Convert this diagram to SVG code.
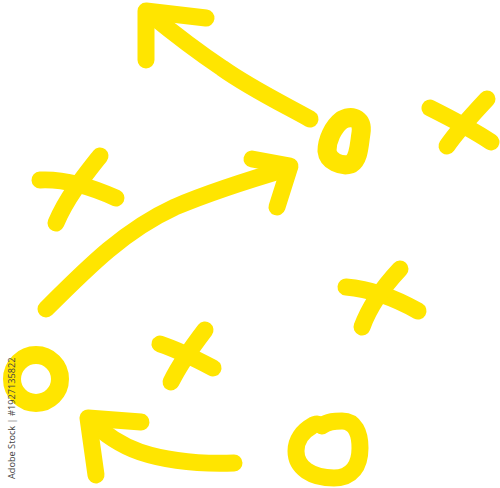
<svg xmlns="http://www.w3.org/2000/svg" width="500" height="488" viewBox="0 0 500 488">
<style>
.s{fill:none;stroke:#FFE500;stroke-width:17;stroke-linecap:round;stroke-linejoin:round}
.wm{font-family:"Open Sans","Liberation Sans",sans-serif;font-size:9.2px;fill:#444}
</style>
<rect width="500" height="488" fill="#fff"/>
<g id="connectors">
<g id="arrow-top">
<path class="s" d="M310 119 C 285 105, 250 88, 222 68 C 195 50, 172 32, 150 14"/>
<path class="s" d="M146 60 L 146 11 L 206 18"/>
</g>
<g id="arrow-curve">
<path class="s" d="M46 309 C 90 265, 125 230, 175 207 C 215 190, 255 178, 289 168"/>
<path class="s" d="M252 159 L 290 166 L 277 207"/>
</g>
<g id="arrow-bottom">
<path class="s" d="M234 463 C 205 464, 170 462, 140 452 C 120 445, 102 432, 90 420"/>
<path class="s" d="M141 422 L 88 418 L 96 475"/>
</g>
</g>
<g id="o-top">
<path class="s" style="stroke-width:19" d="M342 120 C 354 114, 363 120, 361 133 C 359 146, 359 159, 351 164 C 341 167, 328 161, 327 151 C 327 140, 333 127, 342 120 Z"/>
</g>
<g id="o-left">
<circle class="s" style="stroke-width:18" cx="36" cy="379" r="24"/>
</g>
<g id="o-bottom">
<path class="s" d="M312 426 C 316 423, 320 424, 322 426 C 328 421, 335 421, 342 421 C 355 421, 360 433, 360 448 C 360 466, 352 478, 334 478 C 312 478, 296 468, 296 451 C 296 440, 303 431, 312 426 Z"/>
</g>
<g id="x-top-right">
<path class="s" d="M430 108 C 450 118, 470 128, 491 142"/>
<path class="s" d="M487 99 C 472 115, 458 130, 447 146"/>
</g>
<g id="x-left">
<path class="s" d="M40 180 C 60 179, 85 184, 116 198"/>
<path class="s" d="M100 156 C 85 175, 67 197, 56 223"/>
</g>
<g id="x-middle">
<path class="s" d="M160 344 C 178 350, 196 359, 213 368"/>
<path class="s" d="M205 330 C 192 347, 180 364, 171 382"/>
</g>
<g id="x-right">
<path class="s" d="M346 287 C 370 289, 395 298, 418 311"/>
<path class="s" d="M400 269 C 385 285, 370 305, 362 327"/>
</g>
<text class="wm" transform="translate(15,479) rotate(-90)">Adobe Stock | #1927135822</text>
</svg>
